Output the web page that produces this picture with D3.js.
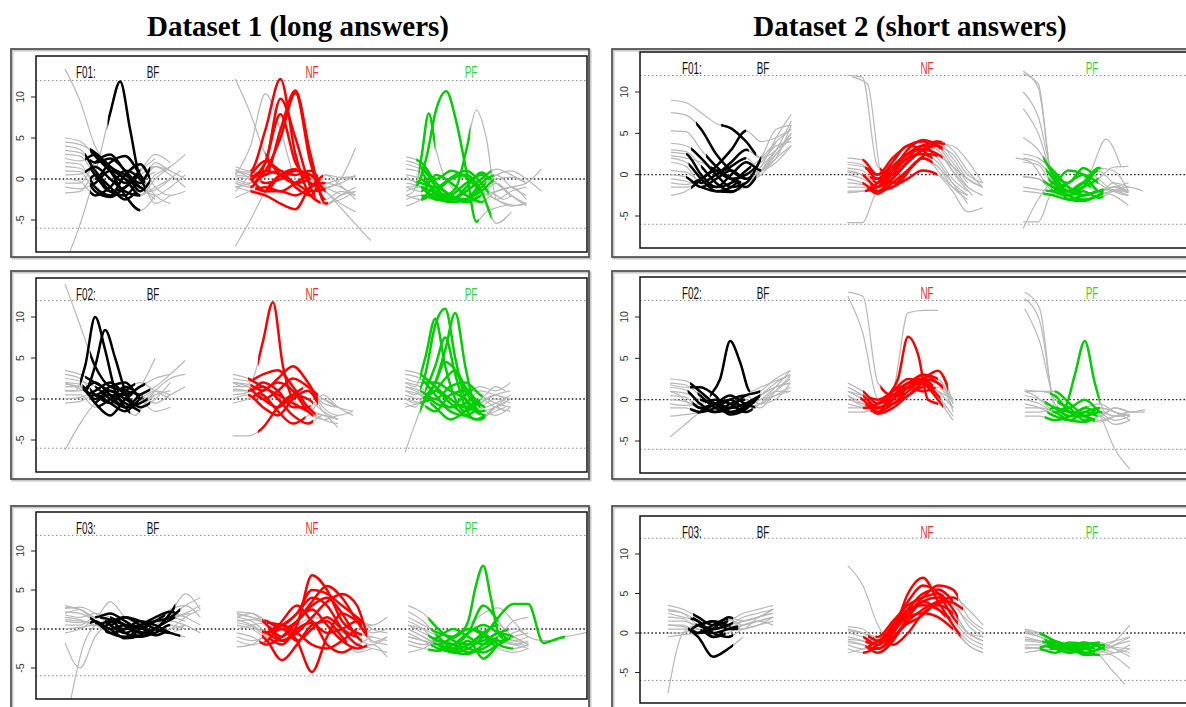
<!DOCTYPE html>
<html><head><meta charset="utf-8">
<script src="https://cdn.jsdelivr.net/npm/d3@7"></script>
<style>body{margin:0;background:#fff;}svg{display:block;}</style>
</head><body>
<svg id="chart" width="1186" height="707"></svg>
<script>
// ---------------- DATA ----------------
const titles = ["Dataset 1 (long answers)", "Dataset 2 (short answers)"];
const facetLabels = ["F01:", "F02:", "F03:"];
const groupNames = ["BF", "NF", "PF"];
const groupColors = ["#000000", "#ff0000", "#00d000"];
const labelColors = ["#111111", "#ff2a2a", "#2bdc2b"];
const yTicks = [10, 5, 0, -5];
const refLevels = [12, -6];
const zeroLevel = [0];

// group start times (time units, axis 0..110) per panel
const startsD1F01 = [5.8, 39.8, 73.9];
const startsD1F02 = [5.8, 39.3, 73.7];
const startsD1F03 = [5.8, 40.1, 74.3];
const startsD2F01 = [6.2, 41.4, 76.5];
const startsD2F02 = [6.0, 41.5, 76.8];
const startsD2F03 = [5.6, 41.5, 76.8];

// each curve: [tStart, tEnd, colouredFrom, colouredTo, values... (evenly spaced)]
const D1F01_BF = [
 [0,18,5,15, 5.0,4.6,2.8,1.0,-0.5,1.0,2.5],
 [0,24,5,16, 4.5,4.2,3.2,1.5,0.0,-1.0,-2.0,-1.0,0.5],
 [0,21,4,14, 4.0,3.6,1.0,-1.0,-2.5,-1.0,1.5,1.0],
 [0,24,5,17, 3.5,3.2,2.0,2.5,1.0,-1.5,0.5,1.5,3.0],
 [0,21,5,15, 3.0,2.8,0.5,-1.5,-1.0,1.0,3.0,2.0],
 [0,18,4,15, 2.5,2.2,3.0,1.0,-2.0,-3.8,-2.0],
 [0,24,5,17, 2.0,1.8,-1.0,-2.0,0.5,1.8,-1.0,-2.0,-1.5],
 [0,21,6,16, 1.5,1.3,0.0,2.0,2.8,0.5,-2.0,-3.0],
 [0,24,5,15, 1.0,0.9,-1.5,-2.2,-1.0,0.5,1.5,0.5,-1.0],
 [0,21,4,15, 0.5,0.6,1.5,0.0,-1.5,-2.0,0.0,1.5],
 [0,21,5,16, 0.0,-0.3,-2.0,-1.0,1.0,0.0,-3.0,-2.0],
 [0,24,6,17, -0.5,-0.5,2.0,3.0,1.0,-0.5,2.0,1.0,0.0],
 [0,21,5,15, -1.0,-1.2,-0.5,1.0,0.0,-2.0,-1.0,0.0],
 [0,18,5,14, -1.7,-1.5,0.5,-1.5,-2.0,0.0,0.8],
 [1,23,8.5,15, -8.8,-5.5,-1.5,3.0,8.0,11.9,6.0,0.0,-1.5,-1.0,0.0,1.0],
 [0,18,8,15, 13.4,9.5,4.0,1.5,0.5,-1.0,-2.5]
];
const D1F01_NF = [
 [0,24,3,17, 1.5,1.0,6.0,12.2,3.0,-2.0,-3.0,-2.5,-1.5],
 [0,24,4,18.5, 1.0,0.8,0.5,6.0,10.8,3.0,-3.0,-2.0,-1.0],
 [0,24,3,16, 0.5,0.3,2.0,9.8,5.0,-1.0,-3.2,-2.0,-1.5],
 [0,24,4,18, 0.0,-0.5,1.0,5.0,10.5,2.0,-2.5,-1.5,-2.0],
 [0,24,3,15, -0.5,-1.0,2.0,7.9,2.0,0.0,-1.0,-0.5,0.5],
 [0,24,3,18, -1.0,-1.5,-2.0,-3.0,-3.7,-1.0,-0.5,-1.0,-2.0],
 [0,24,3,16.5, -1.5,0.5,2.2,1.0,0.5,1.0,-0.5,0.0,0.3],
 [0,21,4,16, -2.3,-1.5,-1.0,-1.5,-0.5,0.5,-1.0,-1.8],
 [0,24,3,17.5, 1.2,0.0,-1.5,-1.5,-2.0,-1.0,0.5,-0.8,-2.5],
 [0,24,5,18, 0.8,0.5,-0.5,0.0,1.0,0.5,-1.5,-3.0,-4.0],
 [0,27,4,17, -0.3,-0.8,-1.5,0.5,1.2,-0.5,-1.5,-3.5,-5.5,-7.5],
 [0,15,0,0, 0.5,4.0,10.4,6.0,0.0,-1.5],
 [0,15,6,15, 12.2,8.0,3.0,0.5,-0.5,0.0],
 [0,15,6,15, -8.2,-5.0,-1.5,0.5,1.0,0.5],
 [0,24,3,18, 0.3,0.0,1.0,0.5,-0.5,-1.5,-1.2,0.0,3.8],
 [0,24,4,17, -1.0,-0.5,0.5,1.0,-1.0,-2.0,0.5,0.2,0.3]
];
const D1F01_PF = [
 [0,27,2,16, 2.7,2.0,-0.5,-2.0,-2.5,-1.0,0.5,1.0,0.0,-1.5],
 [0,24,3,17.5, 2.2,1.5,-1.0,-2.8,-2.5,-0.5,0.5,-1.0,-2.0],
 [0,24,3,15, 1.8,1.2,0.0,1.0,0.2,-1.5,-2.5,-3.3,-3.0],
 [0,24,3,17, 1.2,0.8,-2.0,-2.5,-1.5,0.0,1.2,0.5,-0.5],
 [0,27,3,14.5, 0.5,0.0,-1.5,-2.2,-2.8,-2.0,-1.5,-1.0,-0.5,1.2],
 [0,24,2,16.5, 0.0,-0.5,-1.0,0.2,1.0,-0.5,-2.5,-1.5,-1.0],
 [0,24,3,17, -0.5,-1.0,-2.5,-2.0,-0.5,0.5,-0.5,-2.0,-3.3],
 [0,24,3,15.5, -1.0,-1.5,0.5,-0.5,-2.0,-2.8,-1.5,-1.0,-2.5],
 [0,21,3,16, -1.5,-1.0,-1.8,-2.5,-1.0,0.8,-0.5,-2.2],
 [0,21,3,17, -2.0,-2.5,-1.5,0.0,0.5,-1.5,-5.4,-4.0],
 [0,24,3,17.5, -2.5,-2.0,-2.5,-2.8,-2.5,-1.5,0.0,0.2,-0.5],
 [0,24,3,15, -3.3,-2.5,-1.0,-2.2,-2.8,-2.0,-0.5,-2.0,-3.0],
 [0,20,2,14.5, -1.0,-0.8,2.5,8.5,10.7,7.0,1.0,-5.2,-4.0,-3.5,-3.2],
 [0,21,2.5,5.8, -2.0,-1.5,2.5,8.0,3.5,0.5,-1.0,-1.5,-2.0,-1.5,-1.0,-1.5,-2.0,-2.5,-2.0],
 [0,24,3,12.8, 0.3,-0.5,-1.5,-2.2,-2.0,-1.0,3.5,8.4,5.0,-2.5,-3.0,-3.2,-3.0]
];

const D1F02_BF = [
 [0,21,4,16, 3.5,3.0,2.0,1.0,0.5,1.5,2.5,3.0],
 [0,21,5,14, 3.0,2.5,0.5,-0.5,1.0,2.0,1.0,0.0],
 [0,24,6,17, 2.5,2.2,1.5,0.0,-1.0,0.5,1.5,3.0,4.7],
 [0,18,3.5,13.5, 2.0,1.8,-0.5,-2.0,0.0,1.5,5.0],
 [0,21,5.5,15, 1.5,1.5,0.5,1.5,2.0,0.0,-1.5,-1.0],
 [0,21,4,16.5, 1.0,1.0,2.0,0.5,-1.0,-0.5,0.5,1.0],
 [0,24,6.5,14, 0.5,0.5,-1.0,0.0,1.5,0.5,-0.5,0.5,1.5],
 [0,21,4.5,17, 0.0,0.2,1.0,2.0,0.5,-1.0,0.0,2.0],
 [0,21,5,15.5, -0.5,-0.3,0.5,-0.5,-1.5,0.0,1.0,0.5],
 [0,24,3.5,13, 1.8,1.5,0.0,1.0,0.0,-1.0,1.0,2.5,3.0],
 [0,18,3,13, 1.0,1.0,4.0,10.0,6.0,1.0,-1.0,-2.0,-0.5,0.5],
 [0,18,4,14, 2.0,1.5,1.0,4.0,8.4,5.0,1.0,-1.0,0.0,1.0],
 [0,15,5,15, 14.0,9.0,4.0,1.5,1.0,0.5],
 [0,15,6,15, -6.2,-3.0,-0.5,0.5,-0.5,-1.5]
];
const D1F02_NF = [
 [0,21,3,15, 3.0,2.5,1.5,0.5,-0.5,-1.5,-2.0,-2.5],
 [0,21,4,16.5, 2.5,2.2,3.0,3.5,1.5,-1.0,-2.5,-3.0],
 [0,24,3.5,17, 2.0,1.8,1.0,2.5,4.0,2.0,-1.0,-2.0,-1.5],
 [0,21,5,14, 1.5,1.5,0.0,-1.0,0.5,1.5,-0.5,-1.0],
 [0,21,3,16, 1.0,1.0,1.5,0.0,-2.0,-3.0,-2.0,-2.5],
 [0,24,4.5,15.5, 0.5,0.8,2.0,1.0,-1.0,-1.0,0.5,-1.0,-2.0],
 [0,21,3,17, 0.0,0.5,-1.0,-2.0,0.0,1.0,-1.5,-3.5],
 [0,21,4,16, -0.5,0.0,1.0,2.0,1.0,-1.5,-2.5,-2.0],
 [0,24,5.5,14.5, 1.2,1.0,0.5,-1.5,-3.0,-2.0,0.0,-1.0,-1.5],
 [0,21,3.5,17, 2.0,1.5,0.0,1.0,2.5,1.5,0.0,-1.0],
 [0,21,5,16, -4.5,-4.5,-3.5,-1.0,0.5,0.0,-1.5,-2.5],
 [0,18,5,12, 2.0,1.5,2.5,7.0,11.8,4.0,0.0,-1.0,-1.5,-2.0]
];
const D1F02_PF = [
 [0,21,3,15, 3.5,3.0,1.5,0.0,-1.0,-0.5,0.5,1.0],
 [0,21,4,14, 3.0,2.5,0.5,-1.5,-2.0,-1.0,0.0,-0.5],
 [0,21,3.5,16, 2.5,2.0,2.0,1.0,0.0,-1.5,-1.0,0.0],
 [0,21,4.5,13.5, 2.0,1.5,-0.5,-1.0,0.5,1.5,1.0,2.0],
 [0,21,3,15.5, 1.5,1.0,0.0,1.5,2.0,0.5,-0.5,-1.0],
 [0,21,5,14.5, 1.0,0.5,-1.0,-2.5,-1.5,0.0,-1.0,-1.5],
 [0,21,3.5,16, 0.5,0.0,1.0,-0.5,-2.0,-2.5,-1.0,0.5],
 [0,21,4,15, 0.0,-0.5,-1.5,0.5,1.0,-1.0,-2.0,-1.0],
 [0,21,3,13, -1.0,-0.5,0.0,-1.0,-0.5,1.0,0.5,0.0],
 [0,20,3,15, 1.0,0.5,3.0,9.0,11.0,5.0,0.0,-1.5,-2.0,-1.0,-0.5],
 [0,20,4,16, 0.0,-0.5,0.0,2.0,6.0,10.5,4.0,-1.0,-2.0,-1.5,-1.0],
 [0,20,3,14, 2.0,1.5,5.0,9.8,4.0,0.0,-1.5,-1.0,0.0,0.5,0.0],
 [0,20,4,16, -0.5,-1.0,1.0,4.0,7.5,3.0,-1.0,-2.5,-2.0,-1.0,-1.5],
 [0,20,4,15, 1.5,1.0,0.5,2.0,4.5,3.5,1.0,-0.5,0.5,1.5,1.0],
 [0,20,3,16, -6.5,-3.0,0.0,1.0,2.5,3.5,1.5,0.0,-1.0,-0.5,0.0]
];

const D1F03_BF = [
 [0,27,6,20, 3.0,2.5,1.5,2.0,1.0,0.0,1.0,2.0,1.5,0.5],
 [0,27,8,23, 2.6,2.8,2.0,0.5,-0.5,0.5,1.0,1.5,3.0,4.0],
 [0,24,5,18, 2.2,2.0,1.0,-0.5,-1.0,0.0,1.0,1.5,1.0],
 [0,27,9,22, 1.8,1.5,2.0,1.5,0.5,-0.5,0.0,2.0,4.5,2.5],
 [0,24,7,21, 1.5,1.2,0.5,1.0,0.5,-1.0,-0.5,0.5,0.0],
 [0,27,6,17, 1.2,1.0,0.8,0.0,-1.2,-0.8,0.5,1.5,2.0,3.0],
 [0,24,10,22, 1.0,0.8,0.8,0.5,0.0,0.5,1.5,2.2,1.5],
 [0,27,7,19, 0.5,0.5,1.5,1.2,-0.5,-1.0,0.0,1.0,0.5,-0.5],
 [0,24,8,23, 0.0,0.2,0.5,-0.5,0.0,1.0,0.5,-0.5,-1.0],
 [0,27,5,20, -0.5,0.0,1.0,0.0,0.5,0.2,-0.8,0.0,1.5,2.5],
 [0,24,9,18, 2.8,2.5,1.0,0.5,1.5,0.5,-0.5,0.0,0.5],
 [0,27,0,0, 2.0,2.5,1.5,3.5,1.5,0.5,0.5,2.5,3.0,1.5],
 [0,24,8,21, -1.8,-5.0,-1.0,0.8,1.5,1.0,0.0,-0.5,0.5],
 [1,25,8,22, -9.5,-1.5,0.8,1.0,0.0,-0.5,0.5,1.5,2.0]
];
const D1F03_NF = [
 [0,30,5,25, 2.2,2.0,0.5,-1.5,0.5,6.9,5.0,1.0,-0.5,-1.0,-1.5],
 [0,30,6.5,26, 1.8,1.5,0.5,-1.0,1.0,3.5,5.5,4.0,1.0,-1.5,-2.0],
 [0,30,5.5,26, 1.5,1.0,-0.5,-1.5,-0.5,1.5,3.5,4.5,3.0,-1.7,-1.0],
 [0,30,7,25, 1.0,1.2,0.8,0.5,-1.5,-5.5,-1.0,2.0,1.0,-0.5,0.0],
 [0,27,5,22, 0.5,0.0,-1.5,-4.0,-2.0,0.5,1.0,-1.0,-3.0,-2.5],
 [0,30,6,25, 0.0,0.5,0.8,0.5,2.0,4.0,3.0,0.0,-2.0,-2.5,-3.0],
 [0,30,4.5,26, -0.5,-1.0,-2.0,-1.0,1.0,2.5,0.5,-1.5,-2.5,-2.0,-3.6],
 [0,27,7.5,24, -1.0,-1.5,-1.0,0.0,-1.5,0.0,1.5,0.0,-1.0,0.0],
 [0,30,5.5,25, -1.5,-2.0,-1.5,1.0,3.0,1.0,-0.5,0.0,1.0,0.5,1.5],
 [0,27,6,24, -2.3,-2.0,-0.5,0.5,-0.5,-2.0,-2.5,-1.5,0.0,0.5],
 [0,30,5,25, 1.2,0.5,-0.5,0.5,2.0,5.0,4.5,3.0,1.5,0.0,-0.5],
 [0,27,6.5,23, 0.8,0.3,-1.0,-2.0,0.0,0.8,-2.0,-3.0,-2.0,-1.0],
 [0,30,5.5,25, 2.0,1.5,1.0,0.0,1.0,3.0,4.0,2.0,-1.0,-2.0,-1.0],
 [0,24,0,0, 1.5,2.0,1.0,0.0,0.5,1.5,1.0,-0.5,0.0]
];
const D1F03_PF = [
 [0,24,4,20, 3.0,2.0,0.0,-1.5,-2.0,-1.5,-0.5,0.0,-1.0],
 [0,24,5.5,18, 2.2,1.0,-1.0,-2.5,-2.0,-0.5,0.5,-1.0,-2.0],
 [0,24,4.5,21, 1.5,0.5,-0.5,-1.0,0.0,-0.5,-2.0,-2.5,-2.0],
 [0,24,6,19, 1.0,0.0,-2.0,-2.8,-2.0,-1.0,-1.5,-2.0,-1.5],
 [0,24,4,20.5, 0.5,-0.5,-1.5,-2.0,-2.5,-3.0,-2.0,-1.0,-0.5],
 [0,24,5,17.5, 0.0,-1.0,-2.0,-1.0,0.0,-0.8,-2.5,-3.0,-2.5],
 [0,24,4.5,21, -0.5,-1.5,-2.5,-3.0,-3.2,-2.0,-0.5,-1.0,-2.0],
 [0,24,6.5,19.5, -1.0,-1.5,-2.0,-2.5,-1.5,-3.8,-2.0,-0.5,0.0],
 [0,24,5,18, -1.5,-2.0,-1.0,0.0,-1.0,-2.0,-1.0,1.0,1.5],
 [0,24,4,20, -2.0,-2.5,-2.8,-2.0,-0.5,0.5,-0.5,-1.5,-1.0],
 [0,24,5.5,19, -3.0,-2.5,-1.5,-2.0,-3.0,-2.5,-1.5,-2.0,-2.5],
 [0,24,9,19, -1.5,-1.8,-2.0,-2.0,-1.8,-1.5,-1.2,-0.5,1.0,5.5,8.1,4.0,-0.5,-1.5,-1.8,-2.0,-2.2],
 [0,24,9,18, 0.5,0.0,-1.0,-2.0,-0.5,3.0,1.0,-1.5,-1.8],
 [0,36,6,31.3, 0.0,-1.0,-2.0,-3.0,-2.5,-1.0,1.5,3.2,3.2,-1.8,-1.2,-0.8,-0.4],
 [0,30,0,0, -1.0,-1.5,-2.0,-1.0,0.5,2.0,2.7,1.0,-1.0,-1.5,-1.5]
];

const D2F01_BF = [
 [0,24,10,17, 9.0,8.7,7.5,6.2,5.6,4.0,2.0,3.0,5.0],
 [0,24,5,15, 7.5,7.2,5.5,2.5,0.5,-0.5,0.5,3.0,6.5],
 [0,24,7,14, 5.3,5.2,3.0,1.0,-0.5,-1.0,1.0,4.5,7.3],
 [0,24,4,18, 3.8,3.5,2.0,0.0,-1.5,-1.0,2.0,5.5,6.0],
 [0,24,6,13, 3.0,2.8,1.0,-1.0,-2.0,-1.5,0.5,3.0,4.5],
 [0,24,3,16, 2.7,2.5,0.0,-1.5,-1.0,0.5,2.0,4.0,5.5],
 [0,24,8,17.5, 2.3,2.0,1.5,0.5,-0.5,0.0,1.5,3.5,4.0],
 [0,24,3.5,14.5, 2.0,1.5,-0.5,-2.0,-2.1,-1.0,0.0,2.0,3.5],
 [0,24,5.5,15, 1.5,1.0,-1.0,0.0,1.0,2.0,0.5,2.5,5.0],
 [0,24,7.5,18, 0.5,0.3,-1.0,-1.5,0.0,1.5,0.5,1.5,3.5],
 [0,21,3,16, 0.0,-0.3,-1.5,-0.5,0.5,-0.5,1.0,3.0],
 [0,24,6,13.5, -0.5,-0.8,-1.5,-2.0,-1.5,0.0,0.5,2.5,4.5],
 [0,24,4.5,17, -1.0,-1.2,-0.5,0.5,-0.5,-1.5,0.5,2.0,6.0],
 [0,21,9,15.5, -1.5,-1.5,-0.8,0.0,1.5,3.0,2.0,4.0],
 [0,24,4,15, -2.5,-2.0,-0.6,1.0,3.0,5.3,4.0,4.5,5.5]
];
const D2F01_NF = [
 [0,27,3,18, 2.0,1.8,0.0,1.0,2.5,3.5,4.0,2.0,-0.5,-1.5],
 [0,27,4,17, 1.5,1.2,-0.5,0.5,2.0,3.5,3.0,0.5,-1.5,-2.5],
 [0,27,3.5,19, 1.2,1.0,0.0,2.0,3.5,4.0,3.5,2.5,0.0,-1.0],
 [0,24,5,18.5, 0.8,0.5,-1.0,0.5,3.0,4.2,3.5,1.0,-1.5],
 [0,27,3,19, 0.5,0.0,-1.5,-0.5,1.5,3.0,4.0,3.0,0.5,-1.5],
 [0,24,4.5,17, 0.0,-0.5,-1.5,0.0,2.0,2.5,1.5,-1.0,-3.5],
 [0,27,3,19.5, -0.5,-1.0,-2.0,-0.5,1.5,3.0,3.8,3.5,1.7,-1.0],
 [0,24,4,16.5, -1.0,-1.2,-2.3,-1.0,0.5,2.0,1.0,-1.5,-3.0],
 [0,27,5.5,18, -1.5,-1.5,-2.0,-1.5,-0.5,0.5,0.0,-2.0,-4.5,-4.0],
 [0,24,3.5,17, -2.0,-2.0,-1.5,0.5,2.5,3.5,2.0,-0.5,-2.0],
 [0,27,4,19, -2.2,-2.0,-1.0,1.0,2.5,3.0,2.5,1.0,-0.5,-1.5],
 [0,24,4.5,16, 0.3,0.0,-0.5,1.5,3.5,3.0,0.5,-1.5,-2.5],
 [0,24,6.5,19, 12.0,11.8,1.0,0.0,1.5,3.0,3.5,1.5,-1.0],
 [1,25,7.5,18, 11.8,11.0,-0.5,-1.0,1.0,2.5,2.0,-0.5,-2.5],
 [0,24,6.5,17, -5.8,-5.8,-2.0,-1.5,0.5,2.0,1.0,-1.0,-2.5]
];
const D2F01_PF = [
 [0,21,6,16, 12.5,10.5,-1.0,-2.0,-2.5,-2.0,-1.8,-2.2],
 [0,21,6,15, 12.2,11.0,-1.5,-2.5,-1.5,0.5,-1.0,-2.0],
 [0,21,6,14, 10.0,7.0,0.0,-1.0,0.8,-0.5,-2.0,-2.5],
 [0,21,6,16, 8.0,5.0,-0.5,-2.5,-3.0,-2.5,-1.0,-1.5],
 [0,21,4,15.5, 4.5,3.0,0.0,-2.0,-1.0,0.8,0.5,-2.0],
 [0,21,5,14.5, 2.5,2.0,0.5,-1.5,-2.5,-2.0,-1.5,-2.0],
 [0,21,4.5,16, 2.0,1.5,-0.5,-3.0,-3.2,-2.5,-2.0,-2.5],
 [0,21,5,15, 1.5,1.2,-1.0,0.5,0.0,-2.0,-2.5,-3.7],
 [0,21,4,13.5, -0.3,-0.5,-1.5,-2.0,-1.0,-2.0,-1.5,-1.0],
 [0,24,5.5,16, -0.2,-0.5,-2.0,-2.5,-2.0,-2.8,-2.0,-1.5,-2.0],
 [0,21,4.5,15, -1.5,-1.8,-2.0,-1.0,0.0,-1.0,-2.0,-2.0],
 [0,21,4,16, -2.0,-2.2,-2.5,-3.0,-2.5,-2.0,-1.5,-1.5],
 [0,21,6,15, -5.7,-5.7,-2.0,-2.0,-1.5,-0.5,0.9,1.0],
 [0,21,5.5,14, -6.5,-3.0,-1.0,-1.5,-2.5,-2.0,-1.5,-2.2],
 [-1.5,19.5,0,0, 2.0,1.5,-1.0,-2.0,-1.5,0.5,4.3,1.0]
];

const D2F02_BF = [
 [0,24,4,16, 2.5,2.3,1.0,-0.5,-1.0,-0.5,0.0,1.5,3.5],
 [0,24,5.5,18, 2.0,1.8,0.5,-1.0,-1.5,-1.0,0.5,2.0,3.0],
 [0,24,3.5,15, 1.5,1.2,-0.5,-1.5,-0.5,0.0,-0.5,1.0,2.5],
 [0,24,6,17.5, 1.0,0.8,0.0,-0.5,-1.8,-1.2,0.5,1.5,2.0],
 [0,24,4.5,14, 0.5,0.3,-1.0,-0.5,0.0,-1.0,-0.5,0.5,1.5],
 [0,24,5,18, 0.0,-0.2,-1.0,-1.5,-1.0,0.5,1.0,2.5,3.5],
 [0,24,7,16.5, -0.5,-0.7,-0.5,0.0,-0.5,-1.5,-0.5,1.0,1.0],
 [0,24,4,15, -1.0,-1.0,-1.5,-1.0,0.0,0.5,-0.5,0.0,2.0],
 [0,24,5.5,17, -2.0,-1.8,-1.5,-0.5,0.5,-0.5,-1.0,1.0,2.8],
 [0,24,6,18, -4.5,-3.0,-1.5,-0.5,-1.0,-0.5,0.5,1.5,2.0],
 [0,24,8,16, 1.0,0.5,-0.5,-0.5,0.5,2.5,7.1,4.5,1.0,1.5,2.0,2.5,3.0],
 [0,24,4,17, 1.8,1.5,1.5,0.5,-1.5,-0.8,0.0,0.5,1.0]
];
const D2F02_NF = [
 [0,21,3,17, 2.0,1.0,-0.5,0.5,2.0,2.5,1.0,-1.0],
 [0,21,4,19, 1.5,0.5,-1.0,0.0,1.5,3.0,2.0,0.0],
 [0,21,2.5,20, 1.0,0.0,-1.5,-0.5,1.0,2.5,3.5,-0.5],
 [0,21,5,16, 0.5,-0.5,-1.7,-1.0,0.5,2.0,2.5,-1.5],
 [0,21,3.5,18.5, 0.0,-0.5,-1.0,0.0,2.0,2.0,0.5,-2.0],
 [0,21,4.5,17.5, -0.5,-1.0,-1.5,0.5,1.5,1.0,1.5,-1.0],
 [0,21,3,19, -1.0,-1.0,-0.5,1.0,2.5,2.0,0.0,-2.5],
 [0,21,5.5,15, -1.5,-1.5,-1.0,-0.5,0.5,1.5,1.0,0.0],
 [0,21,4,18, 1.0,0.5,0.0,1.0,2.0,3.0,2.5,-0.5],
 [0,20,4,18, 0.5,-0.5,-1.0,-0.5,0.5,2.5,7.6,5.5,0.0,-0.5,-1.0],
 [0,21,6.5,19, 13.0,12.5,2.0,0.5,1.5,2.5,2.0,0.0],
 [0,21,6.5,17, 12.5,8.0,0.0,-0.5,1.5,2.0,1.0,-1.0],
 [0,18,3,9, 1.5,0.5,-1.0,1.0,10.5,10.8,10.8]
];
const D2F02_PF = [
 [0,21,6,14, 13.0,11.0,-1.0,-1.5,-2.0,-2.5,-2.0,-1.5],
 [0,21,6.5,15, 12.2,9.5,-0.5,-2.0,-1.5,-1.0,-1.5,-2.0],
 [0,21,6.5,13, 11.0,7.0,0.0,-1.0,-2.5,-2.0,-1.0,-1.5],
 [0,21,5,15.5, 1.0,1.0,0.5,-1.5,-2.0,-1.5,-2.0,-1.8],
 [0,24,6,14, 1.2,1.0,1.0,-0.5,-2.0,-2.7,-2.0,-1.5,-1.5],
 [0,21,4,12.5, 0.5,0.0,-1.0,-2.0,-1.0,-0.5,-1.5,-2.0],
 [0,21,5.5,15, 0.0,-0.5,-1.5,-1.0,0.0,-1.5,-2.5,-2.0],
 [0,24,4.5,14.5, -0.5,-1.0,-2.0,-2.5,-1.5,-2.0,-1.0,-1.5,-1.2],
 [0,21,6,13.5, -1.0,-1.0,-1.5,-2.5,-2.7,-2.0,-3.0,-2.5],
 [0,21,5,15, -1.5,-1.5,-1.0,-1.5,-2.0,-1.0,-1.5,-2.5],
 [0,21,4,14, -2.0,-2.0,-2.5,-2.0,-1.0,-2.0,-6.0,-8.4],
 [0,20,7,15, 1.0,0.5,-0.5,-1.5,-1.0,3.0,7.1,2.0,-1.5,-2.0,-2.0]
];

const D2F03_BF = [
 [0,21,5,12, 3.5,3.0,2.0,1.0,1.5,2.5,3.0,3.5],
 [0,21,6,13, 3.0,2.5,1.0,0.5,1.0,2.0,2.5,3.0],
 [0,21,4.5,11, 2.5,2.0,1.5,-0.5,0.5,1.5,2.0,2.5],
 [0,21,7,14, 2.0,1.8,0.5,0.0,0.5,1.0,1.5,2.0],
 [0,21,5.5,12.5, 1.5,1.5,1.0,1.5,1.0,0.5,1.0,1.5],
 [0,21,5,13, 1.0,1.0,0.0,0.5,2.0,1.5,2.0,3.0],
 [0,21,6.5,11.5, 0.5,0.5,0.5,-0.5,0.0,1.0,1.5,1.0],
 [0,21,4.5,14, 0.0,0.0,1.0,1.5,0.5,0.5,2.0,2.5],
 [0,21,6,12, -0.5,-0.2,0.0,1.0,1.8,1.0,1.5,2.0],
 [0,21,5,13, 2.8,2.5,1.5,0.0,-0.5,0.5,1.0,2.0],
 [0,15,4,13, 1.0,0.8,-0.5,-3.0,-2.0,-0.5],
 [0,21,6,12, -7.6,0.0,1.0,0.5,1.0,1.5,2.0,3.0]
];
const D2F03_NF = [
 [0,27,4,22, 0.5,0.0,-1.0,1.0,4.0,6.0,5.0,2.0,0.0,-1.0],
 [0,27,3,21, 0.0,-0.5,-1.5,0.5,3.0,5.0,5.5,4.0,1.0,-0.5],
 [0,27,5,22.5, -0.5,-1.0,-2.0,0.0,5.0,7.0,4.0,1.0,-1.5,-2.5],
 [0,27,3.5,20, -1.0,-1.5,-2.5,-1.0,2.0,4.0,4.5,3.5,1.5,0.0],
 [0,27,4.5,22, -1.5,-2.0,-2.0,-0.5,1.5,3.0,4.0,4.5,3.0,1.0],
 [0,27,3,19.5, -2.0,-2.5,-1.5,1.0,3.0,3.5,3.0,1.0,-1.0,-2.0],
 [0,27,4,21, -2.5,-2.0,-1.0,0.5,2.0,2.5,2.0,0.5,-1.5,-2.5],
 [0,27,5.5,22, 0.3,0.0,-0.5,1.5,3.5,4.5,5.0,3.0,0.0,-0.5],
 [0,27,3.5,20.5, -0.8,-1.0,-1.5,0.0,2.5,4.0,3.0,1.5,-0.5,-1.5],
 [0,23,4,23, -1.2,-1.5,-2.0,-1.0,1.0,2.0,3.5,4.0,3.0],
 [0,27,5,22, 0.8,0.5,-1.0,0.5,2.5,4.5,6.0,5.5,2.0,0.5],
 [0,27,7,21, 8.5,6.0,1.0,-1.5,0.0,2.5,3.5,2.5,0.0,-1.0]
];
const D2F03_PF = [
 [0,21,3,14, 0.5,0.0,-1.0,-1.5,-1.8,-2.0,-1.5,-1.0],
 [0,21,4,16, 0.2,-0.5,-1.5,-2.0,-2.5,-2.0,-1.0,1.0],
 [0,21,5,12, 0.0,-0.5,-1.2,-1.5,-1.2,-1.5,-2.0,-2.5],
 [0,21,3.5,15, -0.5,-1.0,-1.5,-2.2,-2.5,-2.8,-2.5,-1.5],
 [0,21,6,13, -1.0,-1.2,-1.8,-1.2,-1.5,-2.2,-3.0,-4.5],
 [0,21,4,16, -1.5,-1.5,-2.0,-2.5,-2.0,-1.5,-1.8,-2.0],
 [0,21,3,14, -2.0,-1.8,-1.5,-1.8,-2.8,-2.5,-1.5,-0.5],
 [0,21,5,15, -2.5,-2.2,-2.0,-2.0,-1.5,-1.2,-2.0,-3.0],
 [0,21,4.5,12, -0.8,-1.0,-1.8,-2.5,-2.0,-1.5,-1.0,-0.5],
 [0,21,3,16, -1.8,-2.0,-2.5,-1.8,-1.2,-1.8,-2.5,-2.0],
 [0,20,5,14, 0.3,-0.2,-1.0,-2.0,-2.0,-2.5,-4.5,-6.5]
];

// ---------------- LAYOUT ----------------
const panels = [
  {col:0, row:0, starts:startsD1F01, groups:[D1F01_BF,D1F01_NF,D1F01_PF], outer:[11,49,578,208], inner:[36,56,551,196], y10:97,  ym5:220},
  {col:0, row:1, starts:startsD1F02, groups:[D1F02_BF,D1F02_NF,D1F02_PF], outer:[11,271,578,208], inner:[36,278,551,194], y10:317, ym5:440},
  {col:0, row:2, starts:startsD1F03, groups:[D1F03_BF,D1F03_NF,D1F03_PF], outer:[11,506,578,212], inner:[36,512,551,187], y10:551, ym5:668},
  {col:1, row:0, starts:startsD2F01, groups:[D2F01_BF,D2F01_NF,D2F01_PF], outer:[612,49,600,208], inner:[640,52,551,196], y10:92,  ym5:216},
  {col:1, row:1, starts:startsD2F02, groups:[D2F02_BF,D2F02_NF,D2F02_PF], outer:[612,271,600,208], inner:[640,277,551,196], y10:317, ym5:441},
  {col:1, row:2, starts:startsD2F03, groups:[D2F03_BF,D2F03_NF,D2F03_PF], outer:[612,506,600,212], inner:[640,516,551,187], y10:554, ym5:672.5}
];
const labelOffsets = [
  {facet:40, groups:[117,276,435]},
  {facet:42, groups:[123,287,452]}
];
const titleX = [298, 910];

// ---------------- DRAW ----------------
const svg = d3.select("#chart");
svg.append("rect").attr("width",1186).attr("height",707).attr("fill","#fff");
const defs = svg.append("defs");
let clipId = 0;

titles.forEach((t,i)=>{
  svg.append("text").attr("x",titleX[i]).attr("y",36).attr("text-anchor","middle")
    .attr("font-family","'Liberation Serif','Times New Roman',serif").attr("font-weight","bold")
    .attr("font-size",29).attr("fill","#000").text(t);
});

panels.forEach(p=>{
  const [ix,iy,iw,ih] = p.inner;
  const [ox,oy,ow,oh] = p.outer;
  const x = d3.scaleLinear().domain([0,110]).range([ix, ix+iw]);
  const y = d3.scaleLinear().domain([-5,10]).range([p.ym5, p.y10]);
  const g = svg.append("g");

  // outer frame (with soft shadow)
  g.append("rect").attr("x",ox+1.5).attr("y",oy+1.5).attr("width",ow).attr("height",oh)
    .attr("fill","none").attr("stroke","#c8c8c8").attr("stroke-width",2);
  g.append("rect").attr("x",ox).attr("y",oy).attr("width",ow).attr("height",oh)
    .attr("fill","none").attr("stroke","#555").attr("stroke-width",1.8);

  // inner clip
  const cid = "inner"+(clipId++);
  defs.append("clipPath").attr("id",cid).append("rect").attr("x",ix).attr("y",iy).attr("width",iw).attr("height",ih);
  const plot = g.append("g").attr("clip-path",`url(#${cid})`);

  // reference lines
  refLevels.forEach(v=>{
    plot.append("line").attr("x1",ix).attr("x2",ix+iw).attr("y1",y(v)).attr("y2",y(v))
      .attr("stroke","#8a8a8a").attr("stroke-width",1).attr("stroke-dasharray","1.5,2.5");
  });
  zeroLevel.forEach(v=>{
    plot.append("line").attr("x1",ix).attr("x2",ix+iw).attr("y1",y(v)).attr("y2",y(v))
      .attr("stroke","#222").attr("stroke-width",1.3).attr("stroke-dasharray","1.6,2.2");
  });

  const line = d3.line().x(d=>x(d[0])).y(d=>y(d[1])).curve(d3.curveMonotoneX);
  const grayLayer = plot.append("g");
  const colorLayer = plot.append("g");

  p.groups.forEach((curves,gi)=>{
    const gs = p.starts[gi];
    curves.forEach(c=>{
      const [t0,t1,c0,c1,...vals] = c;
      const step = (t1-t0)/(vals.length-1);
      const pts = vals.map((v,i)=>[gs+t0+i*step, v]);
      const dstr = line(pts);
      grayLayer.append("path").attr("d",dstr).attr("fill","none")
        .attr("stroke","#b8b8b8").attr("stroke-width",1.2);
      if (c1 > c0) {
        const sid = "seg"+(clipId++);
        defs.append("clipPath").attr("id",sid).append("rect")
          .attr("x",x(gs+c0)).attr("y",iy).attr("width",x(gs+c1)-x(gs+c0)).attr("height",ih);
        colorLayer.append("path").attr("d",dstr).attr("fill","none")
          .attr("clip-path",`url(#${sid})`)
          .attr("stroke",groupColors[gi]).attr("stroke-width",2.5)
          .attr("stroke-linecap","round").attr("stroke-linejoin","round");
      }
    });
  });

  // inner frame
  g.append("rect").attr("x",ix).attr("y",iy).attr("width",iw).attr("height",ih)
    .attr("fill","none").attr("stroke","#111").attr("stroke-width",1.5);

  // y ticks
  yTicks.forEach(v=>{
    g.append("line").attr("x1",ix-5).attr("x2",ix).attr("y1",y(v)).attr("y2",y(v))
      .attr("stroke","#222").attr("stroke-width",1);
    g.append("text").attr("transform",`translate(${ix-12},${y(v)}) rotate(-90)`)
      .attr("text-anchor","middle").attr("font-family","'Liberation Sans',Arial,sans-serif")
      .attr("font-size",10.5).attr("fill","#333").text(v);
  });

  // labels
  const lo = labelOffsets[p.col];
  const by = iy + 22;
  g.append("g").attr("transform",`translate(${ix+lo.facet},${by}) scale(0.62,1)`)
    .append("text").attr("font-family","'Liberation Sans',Arial,sans-serif").attr("font-size",16)
    .attr("fill","#111").text(facetLabels[p.row]);
  groupNames.forEach((nm,gi)=>{
    g.append("g").attr("transform",`translate(${ix+lo.groups[gi]},${by}) scale(0.62,1)`)
      .append("text").attr("text-anchor","middle").attr("font-family","'Liberation Sans',Arial,sans-serif")
      .attr("font-size",16).attr("fill",labelColors[gi]).text(nm);
  });
});
</script>
</body></html>
